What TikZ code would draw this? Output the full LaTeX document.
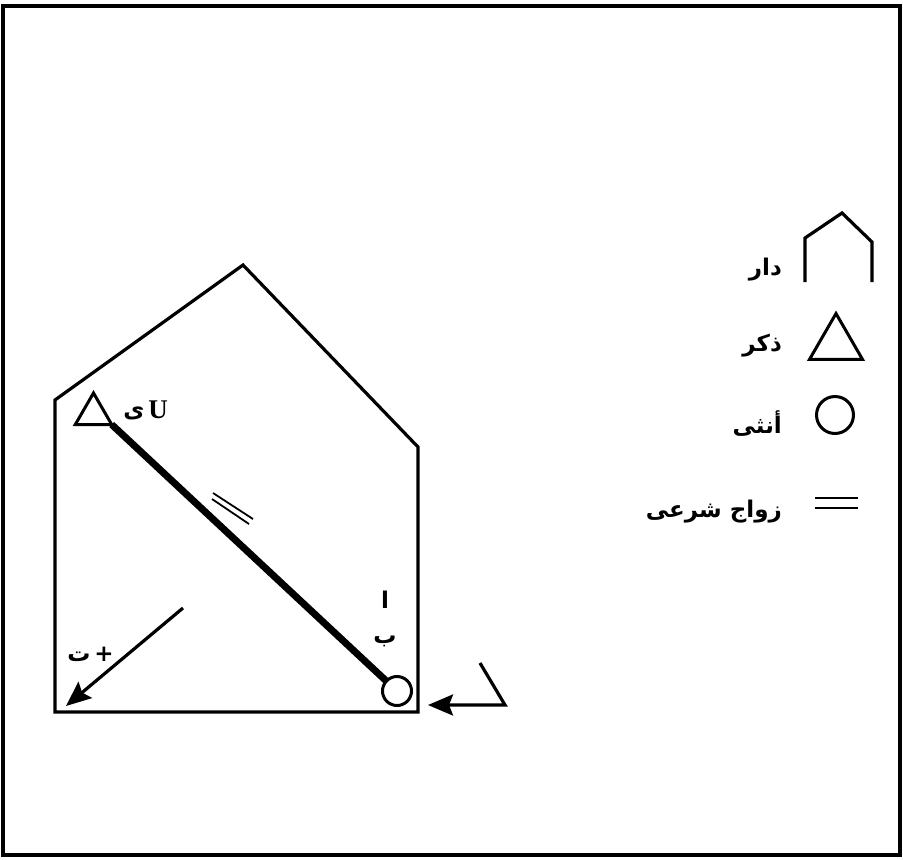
\documentclass[tikz,border=0pt]{standalone}
\usepackage{fontspec}
\newfontfamily\arabicfont[Script=Arabic]{DejaVu Sans}
\newfontfamily\timesfont{Liberation Serif}
\TeXXeTstate=1
\usetikzlibrary{arrows.meta,shapes.geometric}

\tikzset{
  wall/.style={line width=3.2pt,line join=miter},
  male/.style={draw,regular polygon,regular polygon sides=3,inner sep=0pt,outer sep=0pt,line width=3pt},
  female/.style={draw,circle,inner sep=0pt,outer sep=0pt,line width=3pt},
  lbl/.style={font=\arabicfont\bfseries\fontsize{23}{26}\selectfont,inner sep=0pt}
}

\begin{document}
\begin{tikzpicture}[x=1pt,y=-1pt,>={Stealth[length=25pt,width=21pt,inset=4pt]}]
  \useasboundingbox (0,0) rectangle (903,860);
  \draw[line width=3.4pt] (3,6) rectangle (900,855);
  % the house
  \draw[wall] (55,712) -- (55,400) -- (243,265) -- (418,447) -- (418,712) -- cycle;
  \node[male,minimum size=42pt] (ego) at (93.5,414) {};
  \node[female,minimum size=29pt] (wife) at (397,691) {};
  \draw[line width=7pt] (ego.corner 3) -- (wife);
  \draw[line width=1.8pt] (213,493) -- (253,519) (212,499) -- (249,524);
  \node[lbl] (yeh) at (134,413) {ى};
  \node[font=\timesfont\bfseries\fontsize{27}{29}\selectfont,inner sep=0pt] (u) at (158,410) {U};
  \node[lbl] (alif) at (385,600) {ا};
  \node[lbl] (beh) at (385,641) {ب};
  % children out of the house
  \coordinate (c0) at (183,608);
  \coordinate (c1) at (66,706);
  \draw[wall,->] (c0) -- (c1);
  \node[lbl] (teh) at (79,657) {ت};
  \node[lbl] (plus) at (104,654) {+};
  % coming in
  \coordinate (w0) at (480,663);
  \coordinate (w1) at (505,705);
  \coordinate (w2) at (428,705);
  \draw[wall,->] (w0) -- (w1) -- (w2);
  % legend
  \draw[wall] (805,282) -- (805,238) -- (842,213) -- (872,242) -- (872,282);
  \node[lbl,anchor=east] (ldar) at (782,270) {\beginR دار\endR};
  \node[male,minimum size=61pt] (lmale) at (836,344) {};
  \node[lbl,anchor=east] (lmalet) at (782,346) {\beginR ذكر\endR};
  \node[female,minimum size=37pt] (lfemale) at (835,415) {};
  \node[lbl,anchor=east] (lfemalet) at (782,424) {\beginR أنثى\endR};
  \draw[line width=2pt] (815,498) -- (858,498) (815,508) -- (858,508);
  \node[lbl,anchor=east] (lmarr) at (782,512) {\beginR زواج شرعى\endR};
\end{tikzpicture}
\end{document}
